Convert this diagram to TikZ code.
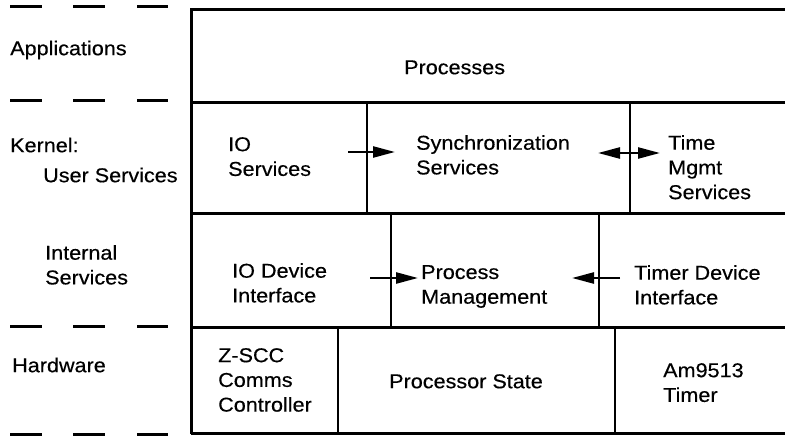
\documentclass[tikz,border=0pt]{standalone}
\usepackage{fontspec}
\setmainfont{Liberation Sans}[FakeStretch=1.08,FakeBold=0.4]
\usetikzlibrary{arrows.meta}
\begin{document}
\begin{tikzpicture}[x=1pt,y=-1pt,
  lbl/.style={anchor=north west, inner sep=0pt, align=left,
    font=\fontsize{20}{24.7}\selectfont, execute at begin node={\rule{0pt}{15pt}}},
  frame/.style={line width=3pt},
  divider/.style={line width=2pt},
  layerdash/.style={line width=3pt},
  flow/.style={line width=2.4pt, -{Triangle[length=22pt,width=11pt]}},
  bothflow/.style={line width=2.4pt, {Triangle[length=22pt,width=11pt]}-{Triangle[length=22pt,width=11pt]}},
  ]
\useasboundingbox (0,0) rectangle (785,436);
% layer separators on the left
\foreach \yy in {7,101,326,434}{
  \draw[layerdash] (10,\yy) -- (42,\yy) (73,\yy) -- (105,\yy) (137,\yy) -- (168,\yy);
}
% frame
\draw[frame] (785,10) -- (191,10) -- (191,434);
\foreach \yy in {103,213,327,433}{ \draw[frame] (191,\yy) -- (785,\yy); }
% dividers
\draw[divider] (367,103) -- (367,213);
\draw[divider] (630,103) -- (630,213);
\draw[divider] (391,213) -- (391,327);
\draw[divider] (599,213) -- (599,327);
\draw[divider] (338,327) -- (338,433);
\draw[divider] (615,327) -- (615,433);
% layer labels
\node[lbl] (apps) at (10,40) {Applications};
\node[lbl] (kern) at (10,137) {Kernel:};
\node[lbl] (usr) at (43,167) {User Services};
\node[lbl] (intl) at (45,245) {Internal\\Services};
\node[lbl] (hw) at (12,357) {Hardware};
% cells
\node[lbl] (proc) at (404,59) {Processes};
\node[lbl] (ios) at (228,137) {IO\\Services};
\node[lbl] (sync) at (416,135) {Synchronization\\Services};
\node[lbl] (time) at (668,135) {Time\\Mgmt\\Services};
\node[lbl] (iod) at (232,263) {IO Device\\Interface};
\node[lbl] (pm) at (421,265) {Process\\Management};
\node[lbl] (tdi) at (634,265) {Timer Device\\Interface};
\node[lbl] (zscc) at (218,348) {Z-SCC\\Comms\\Controller};
\node[lbl] (pst) at (389,373) {Processor State};
\node[lbl] (am) at (663,363) {Am9513\\Timer};
% arrow endpoints
\coordinate (iosOut) at (348,152);
\coordinate (syncIn) at (395,152);
\coordinate (syncR) at (598,153);
\coordinate (timeL) at (660,153);
\coordinate (iodOut) at (370,278);
\coordinate (pmInL) at (418,278);
\coordinate (tdiOut) at (620,278);
\coordinate (pmInR) at (572,278);
\draw[flow] (iosOut) -- (syncIn);
\draw[bothflow] (syncR) -- (timeL);
\draw[flow] (iodOut) -- (pmInL);
\draw[flow] (tdiOut) -- (pmInR);
\end{tikzpicture}
\end{document}
